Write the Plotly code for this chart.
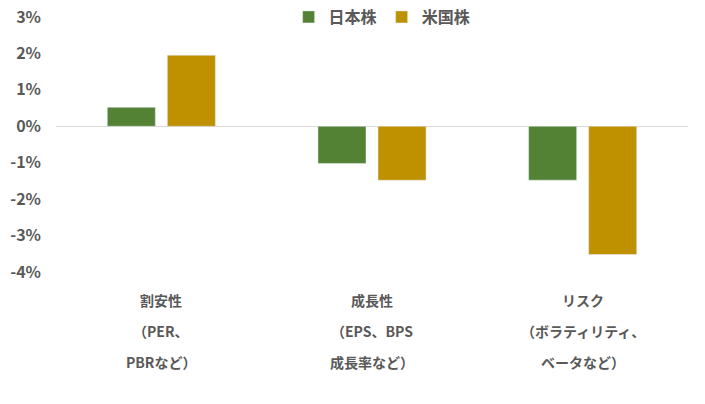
import plotly.graph_objects as go

categories = ["割安性", "成長性", "リスク"]
label_lines = [
    ["割安性", "（PER、", "PBRなど）"],
    ["成長性", "（EPS、BPS", "成長率など）"],
    ["リスク", "（ボラティリティ、", "ベータなど）"],
]
japan = [0.52, -1.02, -1.48]
us = [1.95, -1.48, -3.52]
y_ticks = [3, 2, 1, 0, -1, -2, -3, -4]
y_tick_labels = ["3%", "2%", "1%", "0%", "-1%", "-2%", "-3%", "-4%"]

FONT = "Noto Sans CJK JP"
GRAY = "#595959"

fig = go.Figure()
fig.add_trace(go.Bar(x=categories, y=japan, name="日本株", marker_color="#548235"))
fig.add_trace(go.Bar(x=categories, y=us, name="米国株", marker_color="#BF9000"))

# category labels as stacked annotations (wider line spacing than ticktext allows)
for cat, lines in zip(categories, label_lines):
    for i, line in enumerate(lines):
        fig.add_annotation(
            x=cat, y=0, xref="x", yref="paper",
            text=line, showarrow=False,
            yanchor="middle", yshift=-28 - i * 31,
            font=dict(family=FONT, size=14, color=GRAY, weight="bold"),
        )

# page body adds ~8px offset, margins compensate for it
fig.update_layout(
    width=705, height=404,
    margin=dict(l=48, r=25, t=9, b=140, autoexpand=False),
    plot_bgcolor="white", paper_bgcolor="white",
    barmode="group", bargap=0.43, bargroupgap=0.2,
    font=dict(family=FONT, color=GRAY),
    legend=dict(
        orientation="h", x=0.516, xanchor="center", y=1.0, yanchor="middle",
        font=dict(family=FONT, size=16, color=GRAY, weight="bold"),
        itemwidth=30, traceorder="normal",
    ),
)
fig.update_xaxes(showticklabels=False, showline=False, showgrid=False, zeroline=False)
fig.update_yaxes(
    range=[-4, 3], tickvals=y_ticks, ticktext=y_tick_labels,
    showgrid=False, showline=False, zeroline=True, zerolinecolor="#D9D9D9", zerolinewidth=1,
    tickfont=dict(family=FONT, size=16, color=GRAY, weight="bold"),
    ticklabelstandoff=14, ticklabeloverflow="allow",
)

fig.write_html("out.html")
